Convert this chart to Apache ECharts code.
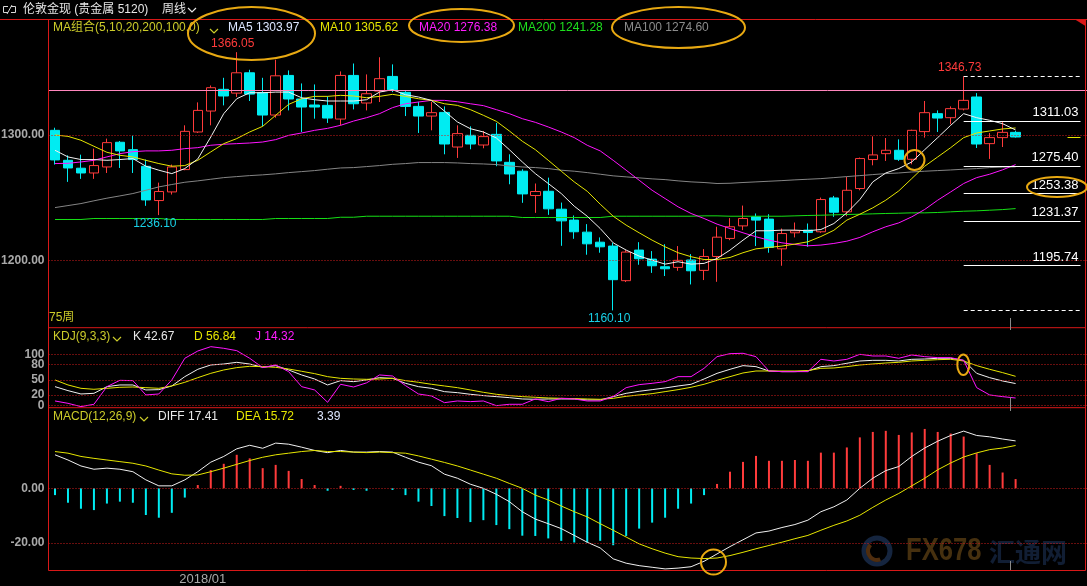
<!DOCTYPE html>
<html><head><meta charset="utf-8">
<script src="https://cdn.jsdelivr.net/npm/echarts/dist/echarts.min.js"></script>
<style>html,body{margin:0;padding:0;background:#000;overflow:hidden}#c{width:1087px;height:586px}</style>
</head><body><div id="c"></div>
<script>
// ---------- DATA ----------
const categories = [
'2017/10/16','2017/10/23','2017/10/30','2017/11/06','2017/11/13','2017/11/20','2017/11/27','2017/12/04','2017/12/11','2017/12/18','2017/12/25',
'2018/01/01','2018/01/08','2018/01/15','2018/01/22','2018/01/29','2018/02/05','2018/02/12','2018/02/19','2018/02/26','2018/03/05','2018/03/12',
'2018/03/19','2018/03/26','2018/04/02','2018/04/09','2018/04/16','2018/04/23','2018/04/30','2018/05/07','2018/05/14','2018/05/21','2018/05/28',
'2018/06/04','2018/06/11','2018/06/18','2018/06/25','2018/07/02','2018/07/09','2018/07/16','2018/07/23','2018/07/30','2018/08/06','2018/08/13',
'2018/08/20','2018/08/27','2018/09/03','2018/09/10','2018/09/17','2018/09/24','2018/10/01','2018/10/08','2018/10/15','2018/10/22','2018/10/29',
'2018/11/05','2018/11/12','2018/11/19','2018/11/26','2018/12/03','2018/12/10','2018/12/17','2018/12/24','2018/12/31','2019/01/07','2019/01/14',
'2019/01/21','2019/01/28','2019/02/04','2019/02/11','2019/02/18','2019/02/25','2019/03/04','2019/03/11','2019/03/18',
'2019/03/25','2019/04/01','2019/04/08','2019/04/15','2019/04/22'];
const xTickLabels = {'2018/01/01':'2018/01'};

const opens  = [1303.7,1279.8,1273.5,1269.7,1274.5,1294.2,1288.3,1275.0,1247.7,1254.6,1272.4,1302.4,1319.1,1336.4,1333.4,1349.6,1333.7,1315.9,1347.5,1328.7,1323.9,1323.6,1312.7,1347.5,
1325.5,1335.0,1346.7,1334.0,1322.8,1315.1,1318.0,1290.4,1299.7,1292.0,1300.5,1278.2,1271.1,1251.7,1255.1,1240.8,1232.1,1222.5,1214.5,1211.4,1183.8,1208.2,1201.0,1194.9,1194.4,1200.3,1192.0,1203.1,
1217.5,1227.5,1234.7,1232.9,1209.2,1222.0,1224.1,1222.8,1249.8,1238.7,1257.3,1280.4,1285.1,1287.8,1280.6,1302.7,1317.0,1313.8,1320.7,1330.3,1293.1,1297.9,1302.1];
const closes = [1280.1,1273.7,1269.7,1275.6,1293.9,1287.3,1280.4,1248.2,1254.9,1274.5,1302.9,1319.6,1337.7,1331.1,1349.6,1332.6,1315.9,1347.2,1328.7,1322.3,1322.3,1313.5,1347.5,1324.9,
1332.9,1344.9,1336.1,1322.8,1315.1,1317.8,1292.8,1301.1,1292.8,1298.7,1279.3,1268.9,1253.0,1254.9,1241.1,1231.5,1222.8,1213.2,1210.8,1184.6,1206.6,1201.3,1195.7,1193.3,1200.0,1191.7,1203.1,1218.5,
1226.8,1233.4,1232.1,1210.3,1221.4,1223.6,1222.2,1248.5,1238.4,1255.9,1281.2,1284.1,1287.8,1280.6,1303.7,1317.8,1313.5,1321.0,1327.6,1292.8,1297.9,1302.1,1298.4];
const lows   = [1276.4,1262.6,1265.0,1265.0,1269.7,1273.7,1269.7,1243.5,1236.1,1252.5,1271.9,1301.6,1307.7,1323.6,1330.3,1327.1,1306.9,1313.8,1319.6,1302.4,1313.0,1309.6,1307.7,1320.4,
1319.6,1326.3,1334.2,1315.1,1301.6,1303.7,1284.6,1281.7,1288.6,1289.4,1275.1,1260.7,1245.9,1237.9,1236.3,1211.6,1217.2,1204.5,1206.1,1160.1,1182.7,1196.5,1190.0,1187.5,1191.7,1180.8,1184.3,1182.9,
1216.1,1224.1,1211.4,1206.1,1195.7,1218.3,1210.8,1222.0,1234.7,1235.2,1255.9,1275.8,1279.3,1279.3,1276.6,1297.9,1302.4,1308.5,1319.6,1289.6,1280.9,1290.4,1297.9];
const highs  = [1305.8,1283.8,1284.3,1289.1,1297.1,1295.2,1299.5,1280.4,1262.0,1276.4,1307.7,1326.0,1339.5,1345.6,1366.05,1352.0,1345.6,1360.0,1351.5,1341.1,1340.3,1330.8,1350.7,1357.0,
1348.3,1362.0,1356.3,1335.0,1326.5,1326.5,1322.8,1307.7,1306.9,1303.2,1309.6,1284.6,1272.7,1261.3,1266.0,1246.1,1235.8,1228.9,1218.3,1214.0,1208.2,1214.5,1207.4,1212.9,1211.4,1205.0,1209.0,1226.8,
1233.7,1243.7,1237.4,1236.8,1225.4,1230.2,1229.4,1250.1,1251.4,1266.6,1282.0,1298.9,1297.6,1296.5,1304.2,1327.1,1319.6,1322.8,1346.73,1333.4,1301.6,1311.1,1303.2];

const ma5 = [1287.8,1282.5,1280.4,1280.4,1279.8,1280.4,1281.2,1275.1,1271.9,1269.2,1273.2,1280.9,1298.4,1317.0,1328.9,1333.7,1333.7,1334.2,1334.2,1329.7,1328.1,1327.1,1327.1,1327.1,
1328.1,1334.2,1336.1,1332.1,1330.3,1327.6,1319.1,1310.4,1305.0,1302.4,1297.6,1288.3,1278.5,1269.2,1261.3,1253.3,1243.2,1235.2,1225.4,1214.0,1208.2,1203.4,1200.2,1197.0,1198.9,1197.0,1197.6,1201.5,
1208.2,1216.1,1223.6,1223.6,1224.1,1224.1,1223.6,1224.6,1229.4,1237.9,1248.5,1262.6,1269.7,1273.2,1278.5,1288.3,1297.9,1307.7,1317.0,1313.8,1311.7,1309.0,1304.0];
const ma10 = [1300.0,1298.9,1295.8,1291.0,1286.2,1283.8,1282.5,1279.8,1277.2,1275.1,1275.6,1279.8,1286.5,1293.1,1297.1,1302.4,1306.9,1315.7,1324.4,1328.9,1330.8,1330.8,1331.6,1331.1,
1329.7,1330.8,1332.4,1330.8,1328.9,1327.6,1324.9,1323.6,1320.2,1315.7,1310.9,1303.2,1295.0,1288.3,1279.8,1271.1,1262.6,1255.1,1244.8,1235.2,1228.1,1222.0,1216.1,1210.8,1206.1,1202.9,1200.7,1200.7,
1202.3,1206.1,1209.2,1210.3,1211.4,1213.0,1214.8,1219.0,1224.0,1232.1,1236.8,1241.9,1248.0,1255.4,1265.2,1275.1,1282.5,1289.9,1297.9,1301.6,1303.2,1304.8,1305.6];
const ma20 = [1277.2,1277.4,1278.5,1279.8,1282.5,1285.1,1286.7,1287.3,1287.3,1287.8,1289.1,1289.9,1291.8,1292.6,1293.1,1293.6,1294.4,1296.3,1299.7,1301.6,1303.7,1305.3,1307.7,1311.1,
1313.8,1317.0,1321.8,1324.9,1326.3,1327.6,1327.6,1326.5,1324.9,1323.4,1320.2,1317.0,1313.0,1310.1,1306.4,1302.4,1297.9,1291.8,1287.3,1279.8,1271.9,1263.9,1255.9,1249.3,1242.7,1237.4,1233.4,1228.9,
1225.4,1222.0,1218.8,1216.1,1214.0,1212.7,1211.6,1212.2,1213.5,1215.3,1218.3,1222.8,1226.8,1229.9,1234.7,1240.6,1248.0,1254.6,1261.3,1266.0,1268.7,1272.2,1276.4];
const ma100 = [1242.1,1243.7,1245.3,1247.5,1249.6,1251.4,1253.3,1255.9,1258.6,1260.5,1262.3,1263.4,1264.7,1266.0,1266.8,1267.6,1268.2,1269.0,1270.0,1270.8,1271.6,1272.7,1273.7,1274.0,
1274.8,1275.6,1276.6,1277.2,1278.0,1278.0,1278.0,1277.7,1277.2,1276.9,1276.4,1275.3,1274.5,1274.0,1273.2,1271.9,1271.1,1270.0,1268.7,1267.4,1266.6,1265.8,1265.0,1264.4,1263.4,1262.6,1262.1,1261.3,
1261.5,1262.1,1262.6,1263.1,1263.6,1264.2,1264.7,1265.2,1266.0,1266.8,1267.6,1268.4,1269.2,1269.7,1270.5,1271.1,1271.6,1272.1,1272.7,1273.2,1274.0,1274.4,1274.6];
const ma200 = [1232.6,1232.6,1232.6,1233.4,1233.4,1233.4,1233.4,1233.4,1233.4,1232.6,1232.6,1232.6,1232.6,1232.6,1232.6,1232.6,1232.6,1233.4,1233.4,1233.4,1233.4,1233.4,1234.4,1234.4,
1235.2,1235.2,1235.2,1235.2,1235.2,1235.2,1235.2,1235.2,1235.2,1235.2,1235.2,1235.2,1234.2,1234.2,1234.2,1234.2,1234.2,1234.2,1234.2,1235.2,1235.2,1235.2,1235.2,1235.2,1235.2,1235.2,1235.5,1235.5,
1235.2,1235.2,1235.2,1235.2,1235.2,1235.5,1235.8,1236.0,1236.3,1236.6,1236.8,1237.1,1237.4,1237.6,1237.9,1237.9,1238.2,1238.7,1239.2,1239.5,1240.0,1240.5,1241.3];

const kLine = [36.6,28.8,22.2,23.5,36.6,39.9,39.9,30.1,30.7,37.9,56.2,70.6,79.1,81.0,84.3,81.0,74.5,77.8,69.3,59.5,51.6,39.9,48.4,46.4,49.7,54.2,52.9,
43.1,36.6,33.3,26.8,24.8,21.6,19.0,17.0,15.0,12.4,11.8,12.4,12.4,12.4,10.5,10.5,17.0,23.5,27.5,30.7,34.0,37.9,41.2,51.6,62.7,70.6,
77.8,75.8,67.3,66.0,66.0,67.3,75.8,77.8,82.4,86.9,88.2,88.2,86.9,90.2,90.8,92.2,92.2,88.2,62.7,54.2,47.7,42.67];
const dLine = [49.7,39.9,33.3,31.4,33.3,35.3,35.9,34.6,33.3,37.9,45.1,54.2,62.7,69.3,73.9,76.5,75.8,74.5,71.2,66.7,62.1,56.2,52.9,51.6,51.0,51.6,52.9,
48.4,45.1,41.2,37.9,34.6,30.1,25.5,21.6,19.0,17.0,15.7,14.4,13.7,13.1,12.4,11.8,13.7,17.6,20.3,22.9,26.8,30.7,35.3,41.2,49.0,56.2,
63.4,67.3,67.3,67.3,67.3,68.0,72.5,73.2,75.8,79.1,81.0,83.0,84.3,86.9,88.2,89.5,90.2,86.9,77.8,70.6,64.1,56.84];
const jLine = [8.5,3.9,-2.6,2.0,36.6,49.0,48.4,20.3,22.2,49.7,92.2,106.5,115.0,111.8,107.2,92.2,73.9,79.1,66.0,36.6,30.1,5.9,41.2,35.9,44.0,59.5,57.5,
38.6,22.2,18.3,5.2,8.5,7.2,8.5,-0.7,2.0,2.0,12.4,7.2,13.7,12.4,8.5,8.5,17.0,34.6,40.5,43.1,46.4,56.2,56.2,72.5,95.4,101.3,
102.0,95.4,67.3,66.0,66.0,66.0,90.2,86.9,90.2,100.0,96.7,96.7,92.2,98.7,95.4,93.5,93.5,88.0,34.6,20.3,17.0,14.32];

const diffLine = [12.3,10.4,8.2,7.0,7.4,7.0,6.1,3.1,0.9,0.9,3.1,6.1,9.6,11.7,14.5,15.8,14.7,16.6,16.2,15.1,13.9,13.1,13.9,13.3,13.3,13.5,13.3,11.4,9.6,8.3,5.2,3.7,1.5,0.0,-2.2,-4.9,-8.6,-11.3,
-13.0,-14.8,-17.3,-19.8,-21.9,-25.9,-27.5,-28.4,-29.0,-29.6,-29.3,-28.8,-26.8,-24.1,-21.4,-18.9,-16.4,-15.7,-14.4,-13.3,-11.7,-8.6,-6.8,-4.3,0.0,3.7,6.5,8.0,11.7,14.8,17.3,19.4,21.0,19.4,18.9,18.1,17.41];
const deaLine = [13.5,12.9,11.7,11.0,10.4,9.8,9.2,8.2,6.7,5.3,4.8,4.9,6.1,7.4,8.8,10.2,11.4,12.3,12.9,13.5,13.9,13.5,13.5,13.3,13.1,13.3,13.1,12.9,11.9,10.7,9.5,8.2,6.7,5.2,3.7,1.8,0.0,-2.5,
-4.3,-6.5,-8.6,-10.5,-13.0,-15.4,-17.9,-20.4,-22.2,-23.8,-25.1,-25.6,-25.8,-25.6,-24.7,-23.5,-22.2,-21.0,-19.8,-18.5,-17.3,-15.4,-13.6,-12.0,-9.9,-7.0,-4.3,-1.9,0.9,3.7,6.8,9.3,11.5,13.0,14.2,14.8,15.72];
const macdBars = [-2.5,-5.3,-7.5,-8.0,-5.6,-4.9,-5.3,-9.8,-10.8,-9.0,-3.4,1.2,6.7,9.0,12.3,11.0,7.4,8.6,6.4,3.4,1.2,-0.9,0.9,-0.6,-0.9,0.0,-0.6,-2.5,-4.9,-6.5,-10.2,-10.9,-12.4,-11.7,-13.5,-15.0,-17.4,-17.5,
-18.4,-19.3,-19.9,-19.9,-19.3,-20.9,-17.5,-14.8,-12.6,-10.8,-7.5,-5.6,-2.5,1.6,6.1,9.7,11.9,10.1,10.1,10.4,10.1,13.1,13.1,15.0,18.7,20.7,21.1,19.6,20.5,21.8,20.7,20.1,19.0,12.9,8.6,5.8,3.39];

const mainTicks = [1300, 1200];
const kdjTicks = [100, 80, 50, 20, 0];
const macdTicks = [0, -20];
const peakIdx = [14, 70];
const troughIdx = [8, 43];
const fibLevels = [1311.03, 1275.40, 1253.38, 1231.37, 1195.74];
const fibEnds = [1346.73, 1160.10];
const pinkLevel = 1335.3;
const fibEndIdx = 79;

// ---------- STYLE ----------
const FONT = '"Liberation Sans", Arial, "Noto Sans CJK SC", sans-serif';
const RED = '#ff3b3b', CYAN = '#00ecf2', GRID = '#d01c1c', FRAME = '#d81818';
const AXLBL = {color:'#a9a9a9', fontFamily:FONT, fontSize:12, fontWeight:'bold'};

function tickLines(ticks, fmt){
  return ticks.map(v => ({yAxis:v, lineStyle:{color:GRID, type:[1,2], width:1},
    label:{show:true, position:'start', distance:4, formatter:()=>fmt(v), ...AXLBL}}));
}
const lastClose = closes[closes.length-1];
const fibStart = categories[peakIdx[1]], fibEnd = categories[fibEndIdx];
const mainMarkLines = [
  ...tickLines(mainTicks, v=>v.toFixed(2)),
  {yAxis:pinkLevel, lineStyle:{color:'#ff86bd', type:'solid', width:1}, label:{show:false}},
  ...fibLevels.map(v=>[{coord:[fibStart,v], lineStyle:{color:'#ffffff', type:'solid', width:1},
      label:{show:true, position:'insideEndTop', distance:2, formatter:v.toFixed(2), color:'#ffffff', fontFamily:FONT, fontSize:13}},
      {coord:[fibEnd,v]}]),
  ...fibEnds.map(v=>[{coord:[fibStart,v], lineStyle:{color:'#ffffff', type:[4,3], width:1}, label:{show:false}}, {coord:[fibEnd,v]}]),
  [{coord:[categories[fibEndIdx-1], lastClose], lineStyle:{color:'#e6e600', type:'solid', width:1}, label:{show:false}}, {coord:[fibEnd,lastClose]}]
];
const markPts = [
  ...peakIdx.map(i=>({coord:[categories[i], highs[i]], value:highs[i], label:{position:'top', color:RED}})),
  ...troughIdx.map(i=>({coord:[categories[i], lows[i]], value:lows[i], label:{position:'bottom', color:'#19d0e6'}}))
];

const grids = [
  {left:48.5, top:19.5, width:1040, height:308.2},
  {left:48.5, top:327.7, width:1040, height:80},
  {left:48.5, top:407.7, width:1040, height:162.3}
];
const yRanges = [[1146.3,1392.1],[-4.7,152.2],[-30.0,29.6]];

function mkX(i){
  return {type:'category', gridIndex:i, data:categories, boundaryGap:true,
    axisLine:{show:false}, axisTick:{show:false}, splitLine:{show:false},
    axisLabel: i===2 ? {show:true, interval:0, margin:3, color:'#a9a9a9', fontFamily:FONT, fontSize:13,
      padding:[0,0,0,10], formatter:v=>xTickLabels[v]||''} : {show:false}};
}
function mkY(i){
  return {type:'value', gridIndex:i, min:yRanges[i][0], max:yRanges[i][1],
    axisLine:{show:false}, axisTick:{show:false}, axisLabel:{show:false}, splitLine:{show:false}};
}
function line(data, color, xi, extra){
  return Object.assign({type:'line', data, xAxisIndex:xi, yAxisIndex:xi, symbol:'none', showSymbol:false,
    lineStyle:{color, width:1}, silent:true, z:4, animation:false}, extra||{});
}

const T = (text, x, y, fill) => ({type:'text', z:50, silent:true,
  style:{text, x, y, fill, font:'12px '+FONT, textVerticalAlign:'middle'}});
const L = (x1,y1,x2,y2,stroke,w) => ({type:'line', z:40, silent:true, shape:{x1,y1,x2,y2}, style:{stroke, lineWidth:w||1}});
const chev = (x,y,c) => ({type:'polyline', z:50, silent:true, shape:{points:[[x,y],[x+4,y+4],[x+8,y]]}, style:{stroke:c, lineWidth:1.2, fill:null}});
const ell = (cx,cy,rx,ry) => ({type:'ellipse', z:60, silent:true, shape:{cx,cy,rx,ry}, style:{fill:null, stroke:'#e8a912', lineWidth:2}});

const graphics = [
  // frame
  L(0,19.5,1087,19.5,FRAME), L(48.5,19.5,48.5,570.5,FRAME), L(1085.5,19.5,1085.5,570.5,FRAME),
  L(48.5,327.7,1085.5,327.7,FRAME), L(48.5,407.7,1085.5,407.7,FRAME), L(48.5,570.5,1085.5,570.5,FRAME),
  {type:'polygon', z:41, silent:true, shape:{points:[[1075,19.5],[1085.5,19.5],[1085.5,26]]}, style:{fill:FRAME}},
  // cursor ticks
  L(1010.5,318,1010.5,330,'#8a8a8a'), L(1010.5,397,1010.5,411,'#8a8a8a'), L(1010.5,561,1010.5,570,'#8a8a8a'),
  // title bar
  {type:'polyline', z:50, shape:{points:[[8,6.5],[3.5,6.5],[3.5,12.5],[8,12.5]]}, style:{stroke:'#d8d8d8', fill:null}},
  {type:'polyline', z:50, shape:{points:[[11,6.5],[15.5,6.5],[15.5,12.5],[11,12.5]]}, style:{stroke:'#d8d8d8', fill:null}},
  L(7,14,12,5,'#d8d8d8'),
  T('伦敦金现 (贵金属 5120)', 23, 10, '#e6e6e6'),
  T('周线', 162, 10, '#e6e6e6'), chev(188,8,'#e6e6e6'),
  // MA legend
  T('MA组合(5,10,20,200,100,0)', 53, 28, '#cccc2a'), chev(210,29,'#cccc2a'),
  T('MA5 1303.97', 228, 28, '#dde6ff'), T('MA10 1305.62', 320, 28, '#e6e600'),
  T('MA20 1276.38', 419, 28, '#ff1cff'), T('MA200 1241.28', 518, 28, '#1ee01e'), T('MA100 1274.60', 624, 28, '#8c8c8c'),
  T('75周', 49, 318, '#cccc2a'),
  // KDJ legend
  T('KDJ(9,3,3)', 53, 337, '#cccc2a'), chev(113,337,'#cccc2a'),
  T('K 42.67', 133, 337, '#e8e8e8'), T('D 56.84', 194, 337, '#e6e600'), T('J 14.32', 255, 337, '#ff1cff'),
  // MACD legend
  T('MACD(12,26,9)', 53, 417, '#cccc2a'), chev(140,417,'#cccc2a'),
  T('DIFF 17.41', 158, 417, '#e8e8e8'), T('DEA 15.72', 236, 417, '#e6e600'), T('3.39', 317, 417, '#dde6ff'),
  // watermark
  {type:'circle', z:1, silent:true, shape:{cx:877, cy:551, r:13}, style:{fill:null, stroke:'#15253f', lineWidth:5}},
  {type:'arc', z:1, silent:true, shape:{cx:877, cy:551, r:9, startAngle:1.2, endAngle:3.9}, style:{fill:null, stroke:'#4f2d0e', lineWidth:4}},
  {type:'text', z:1, silent:true, x:906, y:551, scaleX:0.8, style:{text:'FX678', x:0, y:0, fill:'#46300f', font:'bold 32px '+FONT, textVerticalAlign:'middle'}},
  {type:'text', z:1, silent:true, x:989, y:552, style:{text:'汇通网', x:0, y:0, fill:'#111e34', font:'bold 26px "Noto Sans CJK SC", sans-serif', textVerticalAlign:'middle'}},
  // annotations
  ell(251.5,33.5,63.5,26.5), ell(461.5,25.5,52.5,16.5), ell(678.5,27.5,66.5,20.5),
  ell(1057,187,30,10), ell(914.5,160,10,10), ell(963.3,364.7,6,10.3), ell(713.5,562,12.5,12.5)
];

const option = {
  backgroundColor:'#000',
  animation:false,
  grid: grids,
  xAxis: [mkX(0), mkX(1), mkX(2)],
  yAxis: [mkY(0), mkY(1), mkY(2)],
  series: [
    {type:'candlestick', xAxisIndex:0, yAxisIndex:0, barWidth:10, silent:true, z:3,
     data: opens.map((o,i)=>[o, closes[i], lows[i], highs[i]]),
     itemStyle:{color:'#000000', color0:CYAN, borderColor:RED, borderColor0:CYAN, borderWidth:1},
     markLine:{silent:true, symbol:['none','none'], animation:false, data:mainMarkLines},
     markPoint:{silent:true, symbol:'circle', symbolSize:1, itemStyle:{color:'rgba(0,0,0,0)'}, animation:false,
       label:{show:true, distance:2, offset:[-4,0], fontFamily:FONT, fontSize:12, formatter:p=>p.value.toFixed(2)},
       data:markPts}},
    line(ma100, '#858585', 0),
    line(ma200, '#16e016', 0),
    line(ma20, '#ff14ff', 0),
    line(ma10, '#e6e600', 0),
    line(ma5, '#f2f2f2', 0),
    line(kLine, '#f0f0f0', 1, {markLine:{silent:true, symbol:['none','none'], animation:false, data:tickLines(kdjTicks, v=>String(v))}}),
    line(dLine, '#e6e600', 1),
    line(jLine, '#ff14ff', 1),
    {type:'bar', xAxisIndex:2, yAxisIndex:2, barWidth:2, silent:true, z:3,
     data: macdBars.map(v=>({value:v, itemStyle:{color: v>=0 ? RED : CYAN}})),
     markLine:{silent:true, symbol:['none','none'], animation:false, data:tickLines(macdTicks, v=>v.toFixed(2))}},
    line(diffLine, '#f0f0f0', 2),
    line(deaLine, '#e6e600', 2)
  ],
  graphic: graphics
};
const chart = echarts.init(document.getElementById('c'));
chart.setOption(option);
</script></body></html>
